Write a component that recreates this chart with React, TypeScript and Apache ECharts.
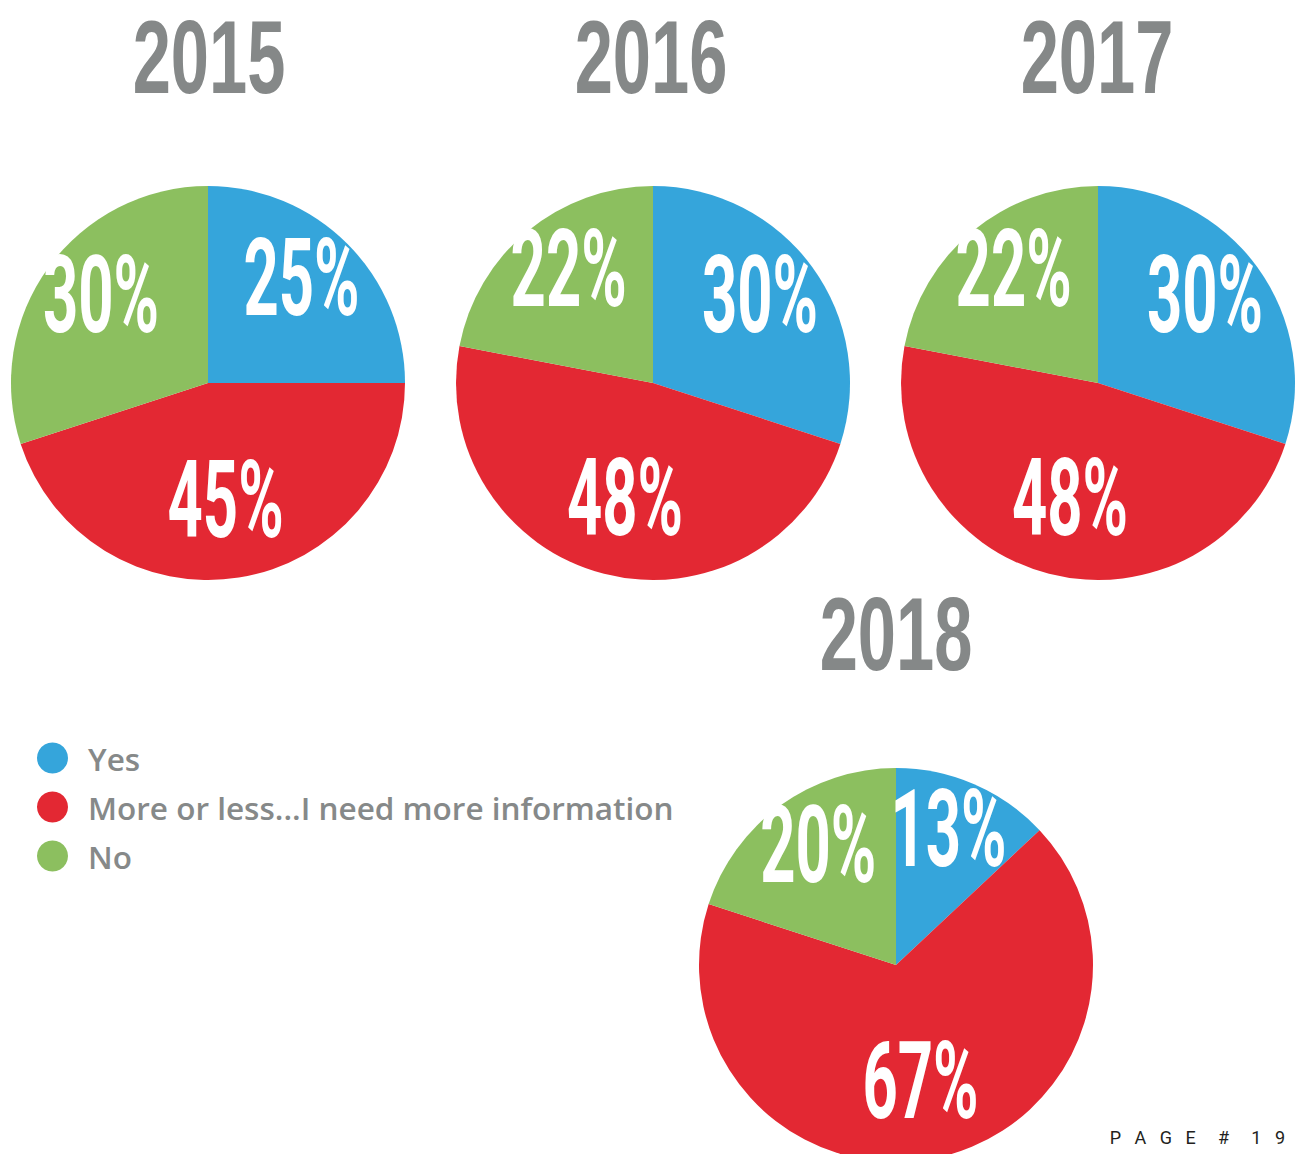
import React, { useEffect, useRef } from "react";
import * as echarts from "echarts";

const categories = ["Yes", "More or less...I need more information", "No"];
const colors = ["#35A5DB", "#E32833", "#8CBF5F"];
const years = ["2015", "2016", "2017", "2018"];
const values2015 = [25, 45, 30];
const values2016 = [30, 48, 22];
const values2017 = [30, 48, 22];
const values2018 = [13, 67, 20];
const allValues = [values2015, values2016, values2017, values2018];

// layout (pixels)
const pieCenters = [
  [208, 383],
  [653, 383],
  [1098, 383],
  [896, 965],
];
const pieRadius = 197;
const titlePos = [
  [209, 57],
  [651, 57],
  [1097, 57],
  [896, 634],
];

const FONT = "Roboto, 'Liberation Sans', sans-serif";
const TITLE_FONT = "'Liberation Sans', Arial, sans-serif";

export default function App() {
  const ref = useRef<HTMLDivElement>(null);

  useEffect(() => {
    if (!ref.current) return;
    const chart = echarts.init(ref.current, undefined, { renderer: "svg" });

    const series: any[] = allValues.map((vals, si) => ({
      type: "pie",
      name: years[si],
      center: pieCenters[si],
      radius: pieRadius,
      startAngle: 90,
      clockwise: true,
      label: { show: false },
      labelLine: { show: false },
      emphasis: { disabled: true },
      silent: true,
      itemStyle: { borderWidth: 0 },
      data: vals.map((v, i) => ({
        name: categories[i],
        value: v,
        itemStyle: { color: colors[i] },
      })),
    }));

    const graphics: any[] = [];
    // year titles
    years.forEach((y, i) => {
      graphics.push({
        type: "text",
        x: titlePos[i][0],
        y: titlePos[i][1],
        scaleX: 0.66,
        z: 100,
        style: {
          text: y,
          fill: "#858888",
          font: `bold 104px ${TITLE_FONT}`,
          textAlign: "center",
          textVerticalAlign: "middle",
        },
      });
    });
    // percentage labels derived from data (placed along each slice's mid angle)
    allValues.forEach((vals, si) => {
      const total = vals.reduce((a, b) => a + b, 0);
      let cum = 0;
      vals.forEach((v) => {
        const mid = ((cum + v / 2) / total) * Math.PI * 2;
        cum += v;
        const f = v >= 40 ? 0.62 : 0.73;
        const [cx, cy] = pieCenters[si];
        graphics.push({
          type: "text",
          x: cx + pieRadius * f * Math.sin(mid) * 0.92,
          y: cy - pieRadius * f * Math.cos(mid) - 4,
          scaleX: 0.57,
          z: 100,
          style: {
            text: `${v}%`,
            fill: "#ffffff",
            font: `bold 108px ${FONT}`,
            textAlign: "center",
            textVerticalAlign: "middle",
          },
        });
      });
    });
    graphics.push({
      type: "text",
      right: 15,
      top: 1128,
      z: 100,
      style: {
        text: "P   A   G   E     #     1   9",
        fill: "#231F20",
        font: `18px ${FONT}`,
      },
    });

    chart.setOption({
      animation: false,
      backgroundColor: "#ffffff",
      legend: {
        data: categories,
        orient: "vertical",
        left: 32,
        top: 737,
        icon: "circle",
        itemWidth: 31,
        itemHeight: 31,
        itemGap: 17,
        selectedMode: false,
        textStyle: {
          fontSize: 31.5,
          lineHeight: 31,
          fontFamily: "'Open Sans', Lato, sans-serif",
          fontWeight: 600,
          color: "#868989",
          padding: [0, 0, 0, 15],
        },
      },
      series,
      graphic: graphics,
    });

    return () => chart.dispose();
  }, []);

  return (
    <div
      ref={ref}
      style={{ position: "absolute", left: 0, top: 0, width: 1300, height: 1154 }}
    />
  );
}
